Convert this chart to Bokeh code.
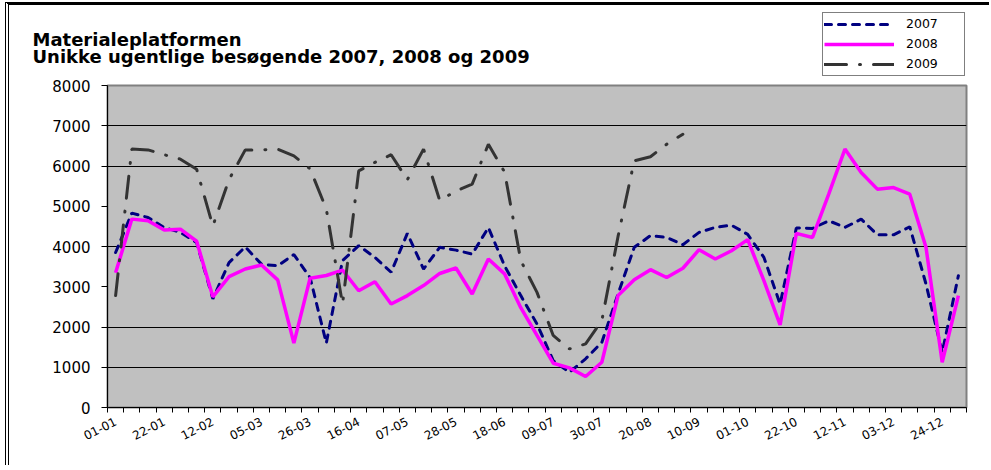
from bokeh.plotting import figure
from bokeh.layouts import column
from bokeh.models import FixedTicker, Label, Legend, LegendItem, Range1d
from bokeh.embed import file_html
from bokeh.resources import INLINE

weeks = list(range(53))
tick_positions = list(range(0, 53, 3))
tick_labels = ["01-01", "22-01", "12-02", "05-03", "26-03", "16-04", "07-05", "28-05",
               "18-06", "09-07", "30-07", "20-08", "10-09", "01-10", "22-10", "12-11",
               "03-12", "24-12"]

v2007 = [3850, 4830, 4720, 4470, 4350, 4100, 2700, 3600, 3990, 3560, 3520, 3800, 3230,
         1600, 3650, 4020, 3730, 3360, 4325, 3440, 3980, 3910, 3810, 4470, 3520, 2780,
         2075, 1165, 875, 1210, 1620, 2820, 3980, 4270, 4225, 4045, 4350, 4475, 4530,
         4300, 3730, 2570, 4460, 4450, 4640, 4475, 4680, 4290, 4290, 4490, 3070, 1370, 3275]
v2008 = [3350, 4680, 4640, 4410, 4430, 4130, 2750, 3250, 3440, 3540, 3170, 1600, 3210,
         3280, 3415, 2900, 3125, 2570, 2780, 3030, 3330, 3465, 2820, 3690, 3320, 2480,
         1790, 1100, 985, 770, 1125, 2780, 3175, 3425, 3230, 3460, 3920, 3690, 3895,
         4170, 3150, 2050, 4325, 4225, 5300, 6420, 5840, 5425, 5465, 5300, 3980, 1125, 2780]
v2009 = [2780, 6420, 6400, 6280, 6170, 5920, 4510, 5665, 6400, 6400, 6420, 6250, 5930,
         4930, 2570, 5880, 6090, 6280, 5660, 6420, 5140, 5380, 5550, 6540, 5850, 3650,
         2860, 1790, 1455, 1580, 2160, 4250, 6130, 6230, 6540, 6790]

series_names = ["2007", "2008", "2009"]
y_ticks = list(range(0, 8001, 1000))
visible_grid = [1000, 2000, 4000, 6000, 7000]

styles07 = dict(line_color="#000080", line_width=3, line_dash="7 7", line_cap="round")
styles08 = dict(line_color="#FF00FF", line_width=3.5)
styles09 = dict(line_color="#333333", line_width=3, line_dash="22 13 1 13", line_cap="round")

W = 980
HH = 71
nan = float("nan")

# ---------- header (titles + legend) ----------
hdr = figure(width=W, height=HH, output_backend="svg", toolbar_location=None,
             x_range=Range1d(0, W), y_range=Range1d(0, HH),
             x_axis_location=None, y_axis_location=None, min_border=0)
hdr.frame_align = False
hdr.xgrid.visible = False
hdr.ygrid.visible = False
hdr.outline_line_color = None
hdr.background_fill_color = "white"
hdr.border_fill_color = "white"

# legend-only renderers (no visible data)
h07 = hdr.line([nan, nan], [nan, nan], **styles07)
h08 = hdr.line([nan, nan], [nan, nan], **styles08)
h09 = hdr.line([nan, nan], [nan, nan], **styles09)

legend = Legend(items=[LegendItem(label=series_names[0], renderers=[h07]),
                       LegendItem(label=series_names[1], renderers=[h08]),
                       LegendItem(label=series_names[2], renderers=[h09])],
                location=(813, 0.5), padding=1, spacing=0, glyph_height=20, label_height=20,
                glyph_width=70, label_standoff=12, label_width=57,
                label_text_font="DejaVu Sans", label_text_font_size="12.5px",
                label_text_color="black",
                border_line_color="black", border_line_width=1,
                background_fill_color="white", background_fill_alpha=1.0)
hdr.add_layout(legend, "center")

t1 = Label(x=23, y=HH - 34, text="Materialeplatformen",
           text_font="DejaVu Sans", text_font_style="bold", text_font_size="18px",
           text_baseline="alphabetic", text_color="black")
t2 = Label(x=23, y=HH - 50.5, text="Unikke ugentlige besøgende 2007, 2008 og 2009",
           text_font="DejaVu Sans", text_font_style="bold", text_font_size="18px",
           text_baseline="alphabetic", text_color="black")
hdr.add_layout(t1)
hdr.add_layout(t2)

# ---------- main chart ----------
p = figure(width=W, height=389, output_backend="svg", toolbar_location=None,
           x_range=Range1d(-0.5, 52.5), y_range=Range1d(0, 8000),
           min_border_left=98, min_border_right=23, min_border_top=9, min_border_bottom=58)
p.frame_align = False

p.background_fill_color = "#C0C0C0"
p.border_fill_color = "white"
p.outline_line_color = "#808080"
p.outline_line_width = 2

p.xgrid.visible = False
p.ygrid.ticker = FixedTicker(ticks=visible_grid)
p.ygrid.grid_line_color = "black"
p.ygrid.grid_line_width = 1

p.yaxis.ticker = FixedTicker(ticks=y_ticks)
p.yaxis.axis_line_color = "black"
p.yaxis.major_tick_out = 6
p.yaxis.major_tick_in = 0
p.yaxis.minor_tick_line_color = None
p.yaxis.major_label_standoff = 11
p.yaxis.major_label_text_font = "DejaVu Sans"
p.yaxis.major_label_text_font_size = "15px"
p.yaxis.major_label_text_color = "black"

p.xaxis.ticker = FixedTicker(ticks=tick_positions, minor_ticks=[i - 0.5 for i in range(54)])
p.xaxis.major_label_overrides = {pos: lab for pos, lab in zip(tick_positions, tick_labels)}
p.xaxis.axis_line_color = "black"
p.xaxis.major_tick_line_color = None
p.xaxis.major_tick_out = 5
p.xaxis.major_tick_in = 0
p.xaxis.minor_tick_out = 5
p.xaxis.minor_tick_in = 0
p.xaxis.minor_tick_line_color = "black"
p.xaxis.major_label_orientation = 0.47
p.xaxis.major_label_standoff = 8
p.xaxis.major_label_text_font = "DejaVu Sans"
p.xaxis.major_label_text_font_size = "12px"
p.xaxis.major_label_text_color = "black"

p.line(weeks, v2007, **styles07)
p.line(weeks, v2008, **styles08)
p.line(weeks[:len(v2009)], v2009, **styles09)

layout = column(hdr, p, spacing=0,
                styles={"border-top": "3px solid black", "border-left": "4px double black",
                        "margin-left": "5px", "margin-top": "2px"})

open("out.html", "w").write(file_html(layout, INLINE))
